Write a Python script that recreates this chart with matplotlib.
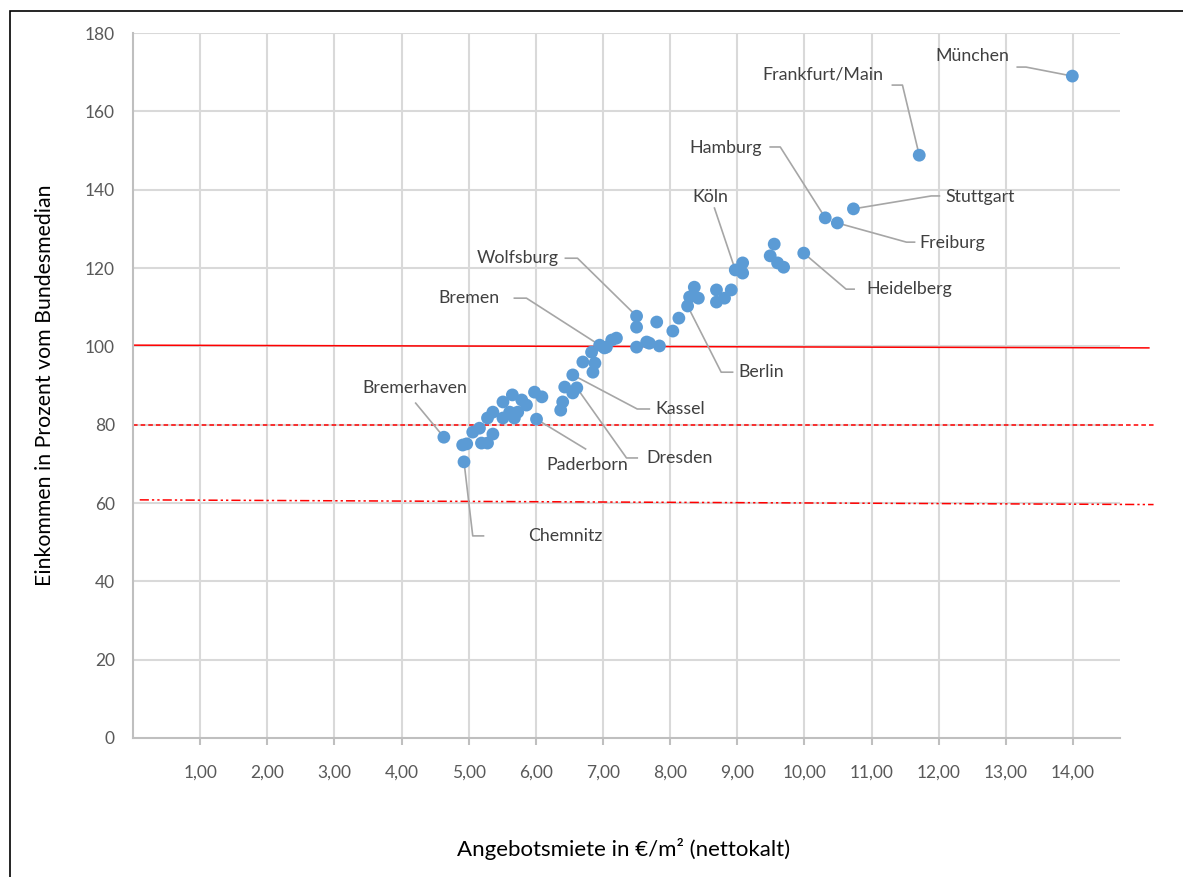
import matplotlib.pyplot as plt
from matplotlib.patches import Rectangle

plt.rcParams['font.family'] = ['Lato', 'DejaVu Sans']

##### DATA
# Angebotsmiete (EUR/m2) and income in % of the federal median
miete = [4.63, 4.91, 4.97, 4.93, 5.06, 5.16, 5.19, 5.28, 5.36, 5.28,
         5.36, 5.51, 5.51, 5.65, 5.68, 5.61, 5.79, 5.86, 5.73, 5.98,
         6.09, 6.01, 6.37, 6.40, 6.43, 6.55, 6.55, 6.61, 6.70, 6.85,
         6.88, 6.83, 6.95, 7.05, 7.13, 7.20, 7.02, 7.50, 7.65, 7.69,
         7.84, 7.50, 7.50, 7.80, 8.04, 8.13, 8.26, 8.29, 8.36, 8.42,
         8.69, 8.91, 8.69, 8.81, 8.97, 9.08, 9.08, 9.55, 9.49, 9.60,
         9.69, 9.99, 10.31, 10.49, 10.73, 11.71, 13.99]
einkommen = [76.8, 74.8, 75.1, 70.5, 78.1, 79.1, 75.3, 75.3, 77.6, 81.7,
             83.2, 85.8, 81.7, 87.6, 81.7, 83.2, 86.3, 85.0, 83.2, 88.3,
             87.1, 81.4, 83.7, 85.8, 89.6, 92.7, 88.1, 89.4, 96.0, 93.4,
             95.7, 98.5, 100.3, 99.8, 101.6, 102.1, 99.6, 99.8, 101.1, 100.8,
             100.1, 107.7, 104.9, 106.2, 103.9, 107.2, 110.3, 112.6, 115.1, 112.3,
             114.4, 114.4, 111.3, 112.3, 119.5, 121.3, 118.7, 126.1, 123.1, 121.3,
             120.2, 123.8, 132.8, 131.5, 135.1, 148.8, 169.0]

# labelled cities -> index into the arrays above
staedte = {'Bremerhaven': 0, 'Chemnitz': 3, 'Paderborn': 21, 'Kassel': 25,
           'Dresden': 27, 'Bremen': 32, 'Wolfsburg': 41, 'Berlin': 46,
           'Köln': 54, 'Heidelberg': 61, 'Hamburg': 62, 'Freiburg': 63,
           'Stuttgart': 64, 'Frankfurt/Main': 65, 'München': 66}

x_ticks = list(range(1, 15))
x_ticklabels = ['{},00'.format(t) for t in x_ticks]
y_ticks = list(range(0, 181, 20))

##### LAYOUT of the data labels (text position, leader line bend points)
label_layout = {
    'München':        ((12.50, 174.1), [(13.17, 171.3), (13.30, 171.3)]),
    'Frankfurt/Main': ((10.28, 169.5), [(11.31, 166.7), (11.46, 166.7)]),
    'Hamburg':        ((8.82, 150.6), [(9.49, 150.9), (9.64, 150.9)]),
    'Stuttgart':      ((12.62, 138.1), [(12.01, 138.4), (11.89, 138.4)]),
    'Freiburg':       ((12.20, 126.4), [(11.64, 126.6), (11.52, 126.6)]),
    'Heidelberg':     ((11.56, 114.6), [(10.74, 114.6), (10.62, 114.6)]),
    'Köln':           ((8.60, 138.1), [(8.66, 135.3)]),
    'Wolfsburg':      ((5.73, 122.5), [(6.44, 122.5), (6.62, 122.5)]),
    'Bremen':         ((5.00, 112.3), [(5.68, 112.3), (5.86, 112.3)]),
    'Berlin':         ((9.36, 93.4), [(8.93, 93.4), (8.76, 93.4)]),
    'Kassel':         ((8.15, 84.0), [(7.69, 84.0), (7.51, 84.0)]),
    'Dresden':        ((8.14, 71.5), [(7.51, 71.5), (7.35, 71.5)]),
    'Paderborn':      ((6.76, 69.7), [(6.74, 73.8)]),
    'Bremerhaven':    ((4.20, 89.4), [(4.21, 85.5)]),
    'Chemnitz':       ((6.44, 51.6), [(5.22, 51.6), (5.06, 51.6)]),
}

##### PLOTTING
fig = plt.figure(figsize=(11.83, 8.77), dpi=100)
ax = fig.add_axes([133/1183, 1 - 738/877, (1120 - 133)/1183, (738 - 33)/877])

grid_c = '#d9d9d9'
for t in x_ticks:
    ax.axvline(t, color=grid_c, lw=1.5, zorder=0)
for t in y_ticks[1:]:
    ax.axhline(t, color=grid_c, lw=1.5, zorder=0)

# reference lines (drawn shapes, reaching past the plot area)
ax.plot([0, 15.13], [100.3, 99.6], color='#ff0000', lw=1.1, clip_on=False, zorder=2)
ax.plot([0, 15.2], [79.9, 79.9], color='#ff0000', lw=1.1, ls=(0, (3, 2)),
        clip_on=False, zorder=2)
ax.plot([0.1, 15.2], [60.8, 59.6], color='#ff0000', lw=1.1,
        ls=(0, (6, 2, 1.5, 2, 1.5, 2)), clip_on=False, zorder=2)

ax.scatter(miete, einkommen, s=85, color='#5b9bd5', edgecolors='none', zorder=3)

# data labels with leader lines
for name, idx in staedte.items():
    (tx, ty), bends = label_layout[name]
    px, py = miete[idx], einkommen[idx]
    xs = [b[0] for b in bends] + [px]
    ys = [b[1] for b in bends] + [py]
    ax.plot(xs, ys, color='#a6a6a6', lw=1.2, zorder=2, clip_on=False)
    ax.text(tx, ty, name, ha='center', va='center', fontsize=12.8, color='#404040',
            zorder=4)

ax.set_xlim(0, 14.7)
ax.set_ylim(0, 180)
ax.set_xticks(x_ticks)
ax.set_xticklabels(x_ticklabels)
ax.set_yticks(y_ticks)
ax.tick_params(axis='x', colors='#bfbfbf', length=5, width=1.5, pad=14,
               labelcolor='#595959', labelsize=12.5)
ax.tick_params(axis='y', length=0, pad=13, labelcolor='#595959', labelsize=12.5)

for side in ['top', 'right']:
    ax.spines[side].set_visible(False)
for side in ['left', 'bottom']:
    ax.spines[side].set_color('#bfbfbf')
    ax.spines[side].set_linewidth(1.5)

fig.text(45/1183, 1 - 385/877, 'Einkommen in Prozent vom Bundesmedian', rotation=90,
         ha='center', va='center', fontsize=15.3, color='black')
fig.text(624/1183, 1 - 849/877, 'Angebotsmiete in €/m² (nettokalt)',
         ha='center', va='center', fontsize=16, color='black')

# chart border (right and bottom edges lie outside the image)
fig.patches.append(Rectangle((10/1183, -0.1), 1.2, 1.1 - 11/877, transform=fig.transFigure,
                             fill=False, edgecolor='black', lw=1.2))

plt.savefig('out.png', dpi=100)
